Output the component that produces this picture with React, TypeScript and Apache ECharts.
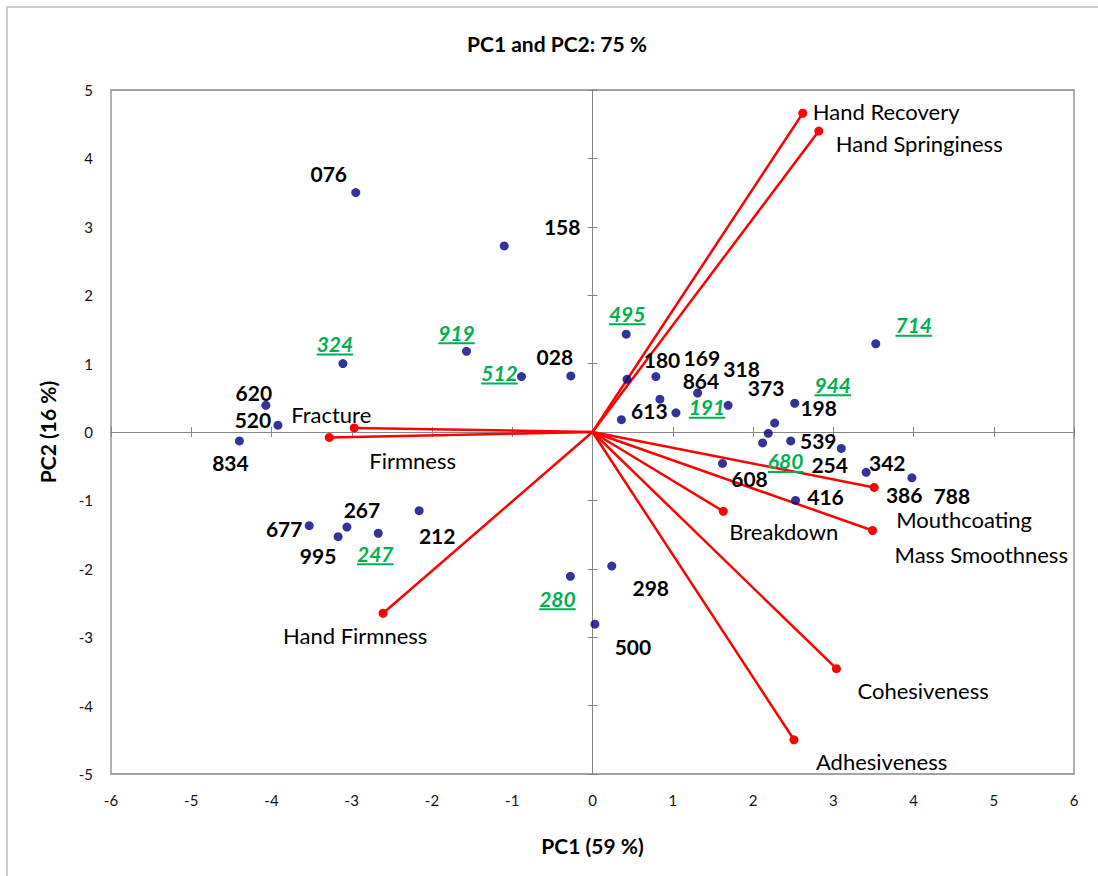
import React, { useEffect, useRef } from 'react';
import * as echarts from 'echarts';

// ---- Data ----
const sampleNames = ['076', '158', '324', '919', '512', '028', '620', '520', '834', '677', '267', '995', '247', '212', '280', '298', '500',
  '495', '714', '180', '169', '318', '864', '191', '613', '373', '944', '198', '539', '680', '254', '342', '608', '386', '788', '416'];
const samplePC1 = [-2.95, -1.10, -3.11, -1.57, -0.885, -0.27, -4.07, -3.92, -4.40, -3.53, -3.06, -3.17, -2.67, -2.16, -0.275, 0.24, 0.03,
  0.42, 3.53, 0.43, 0.79, 1.31, 0.84, 1.04, 0.36, 1.69, 2.52, 2.27, 2.19, 2.12, 2.47, 3.10, 1.62, 3.41, 3.98, 2.53];
const samplePC2 = [3.50, 2.72, 1.00, 1.18, 0.81, 0.82, 0.39, 0.10, -0.13, -1.37, -1.39, -1.53, -1.48, -1.15, -2.11, -1.96, -2.81,
  1.43, 1.29, 0.77, 0.81, 0.57, 0.48, 0.28, 0.18, 0.39, 0.42, 0.13, -0.02, -0.16, -0.13, -0.24, -0.46, -0.59, -0.67, -1.00];
const highlightedSamples = ['324', '919', '512', '247', '280', '495', '714', '944', '191', '680'];

const attributeNames = ['Hand Recovery', 'Hand Springiness', 'Fracture', 'Firmness', 'Hand Firmness', 'Mouthcoating',
  'Mass Smoothness', 'Breakdown', 'Cohesiveness', 'Adhesiveness'];
const attributePC1 = [2.62, 2.82, -2.97, -3.28, -2.61, 3.51, 3.49, 1.63, 3.04, 2.51];
const attributePC2 = [4.66, 4.40, 0.06, -0.08, -2.65, -0.81, -1.44, -1.16, -3.46, -4.50];

const titleText = 'PC1 and PC2: 75 %';
const xTitle = 'PC1 (59 %)';
const yTitle = 'PC2 (16 %)';

// ---- Layout (label offsets in pixels, relative to their marker) ----
const sampleLabelOffsets: Record<string, [number, number]> = {
  '076': [-27, -19], '158': [58, -19], '324': [-8, -20], '919': [-10, -19], '512': [-22, -4], '028': [-16, -19],
  '620': [-12, -13], '520': [-25, -6], '834': [-9, 22], '677': [-25, 3], '267': [15, -18], '995': [-20, 19],
  '247': [-3, 20], '212': [18, 25], '280': [-13, 22], '298': [39, 21], '500': [38, 22],
  '495': [1, -21], '714': [38, -19], '180': [35, -20], '169': [46, -19], '318': [44, -25], '864': [41, -19],
  '191': [31, -6], '613': [28, -9], '373': [38, -18], '944': [38, -19], '198': [44, -16], '539': [50, 7],
  '680': [23, 18], '254': [39, 24], '342': [46, 14], '608': [27, 15], '386': [38, 22], '788': [40, 18], '416': [30, -4],
};
const attributeLabelOffsets: [number, number][] = [
  [10, -2], [17, 12], [-63, -13], [40, 23], [-100, 22], [22, 32], [22, 24], [6, 20], [21, 22], [22, 22],
];

const FONT = 'Lato, "Open Sans", sans-serif';
const GREEN = '#00b050';
const AXIS_GRAY = '#868686';
const SAMPLE_FONT_SIZE = 21;
const ATTR_FONT_SIZE = 22;
const TITLE_FONT_SIZE = 21;

function measureText(text: string, font: string): number {
  const c = document.createElement('canvas');
  const ctx = c.getContext('2d');
  if (!ctx) return text.length * 11;
  ctx.font = font;
  return ctx.measureText(text).width;
}

export default function App() {
  const ref = useRef<HTMLDivElement>(null);

  useEffect(() => {
    document.body.style.margin = '0';
    if (!ref.current) return;
    const chart = echarts.init(ref.current, undefined, { renderer: 'svg' });

    const sampleData = samplePC1.map((x, i) => [x, samplePC2[i]]);
    const attributeData = attributePC1.map((x, i) => [x, attributePC2[i]]);

    const baseX = { type: 'value', min: -6, max: 6, interval: 1, splitLine: { show: false } };
    const baseY = { type: 'value', min: -5, max: 5, interval: 1, splitLine: { show: false } };

    const option: any = {
      animation: false,
      backgroundColor: '#ffffff',
      grid: {
        left: 111, right: 24, top: 90, bottom: 102,
        show: true, borderColor: AXIS_GRAY, borderWidth: 1.3, backgroundColor: 'transparent',
      },
      graphic: [
        {
          type: 'rect', silent: true,
          shape: { x: 7, y: 7, width: 1300, height: 1100 },
          style: { fill: 'none', stroke: '#bfbfbf', lineWidth: 1.5 },
        },
        {
          type: 'text', x: 557, y: 43,
          style: {
            text: titleText, align: 'center', verticalAlign: 'middle',
            fontSize: TITLE_FONT_SIZE, fontWeight: 'bold', fontFamily: FONT, fill: '#000',
          },
        },
      ],
      xAxis: [
        {
          ...baseX, position: 'bottom',
          axisLine: { show: false, onZero: false },
          axisTick: { show: false },
          axisLabel: { color: '#111', fontSize: 15, fontFamily: FONT, margin: 18 },
          name: xTitle, nameLocation: 'middle', nameGap: 61,
          nameTextStyle: { fontSize: TITLE_FONT_SIZE, fontWeight: 'bold', fontFamily: FONT, color: '#000' },
        },
        {
          ...baseX, position: 'bottom',
          axisLine: { show: true, onZero: true, onZeroAxisIndex: 0, lineStyle: { color: AXIS_GRAY, width: 1 } },
          axisTick: { show: true, inside: false, length: 5, lineStyle: { color: AXIS_GRAY, width: 1 } },
          axisLabel: { show: false },
        },
        {
          ...baseX, position: 'bottom',
          axisLine: { show: true, onZero: true, onZeroAxisIndex: 0, lineStyle: { color: AXIS_GRAY, width: 1 } },
          axisTick: { show: true, inside: true, length: 5, lineStyle: { color: AXIS_GRAY, width: 1 } },
          axisLabel: { show: false },
        },
      ],
      yAxis: [
        {
          ...baseY, position: 'left',
          axisLine: { show: false, onZero: false },
          axisTick: { show: false },
          axisLabel: { color: '#111', fontSize: 15, fontFamily: FONT, margin: 18 },
          name: yTitle, nameLocation: 'middle', nameGap: 53,
          nameTextStyle: { fontSize: TITLE_FONT_SIZE, fontWeight: 'bold', fontFamily: FONT, color: '#000' },
        },
        {
          ...baseY, position: 'left',
          axisLine: { show: true, onZero: true, onZeroAxisIndex: 0, lineStyle: { color: AXIS_GRAY, width: 1 } },
          axisTick: { show: true, inside: false, length: 5, lineStyle: { color: AXIS_GRAY, width: 1 } },
          axisLabel: { show: false },
        },
        {
          ...baseY, position: 'left',
          axisLine: { show: true, onZero: true, onZeroAxisIndex: 0, lineStyle: { color: AXIS_GRAY, width: 1 } },
          axisTick: { show: true, inside: true, length: 5, lineStyle: { color: AXIS_GRAY, width: 1 } },
          axisLabel: { show: false },
        },
      ],
      series: [
        {
          type: 'custom',
          name: 'Attributes',
          z: 2,
          silent: true,
          data: attributeData,
          renderItem: (params: any, api: any) => {
            const i = params.dataIndex;
            const o = api.coord([0, 0]);
            const e = api.coord([api.value(0), api.value(1)]);
            const off = attributeLabelOffsets[i];
            return {
              type: 'group',
              children: [
                { type: 'line', shape: { x1: o[0], y1: o[1], x2: e[0], y2: e[1] }, style: { stroke: '#ff0000', lineWidth: 2.5 } },
                { type: 'circle', shape: { cx: e[0], cy: e[1], r: 4.5 }, style: { fill: '#ff0000' } },
                {
                  type: 'text',
                  style: {
                    x: e[0] + off[0], y: e[1] + off[1], text: attributeNames[i],
                    fill: '#000', fontSize: ATTR_FONT_SIZE, fontFamily: FONT, align: 'left', verticalAlign: 'middle',
                  },
                },
              ],
            };
          },
        },
        {
          type: 'scatter',
          name: 'Samples',
          z: 3,
          symbol: 'circle',
          symbolSize: 9,
          itemStyle: { color: '#000080' },
          data: sampleData,
        },
        {
          type: 'custom',
          name: 'Sample labels',
          z: 4,
          silent: true,
          data: sampleData,
          renderItem: (params: any, api: any) => {
            const i = params.dataIndex;
            const name = sampleNames[i];
            const p = api.coord([api.value(0), api.value(1)]);
            const off = sampleLabelOffsets[name] || [0, 0];
            const cx = p[0] + off[0];
            const cy = p[1] + off[1];
            const green = highlightedSamples.indexOf(name) >= 0;
            const children: any[] = [
              {
                type: 'text',
                style: {
                  x: cx, y: cy, text: name,
                  fill: green ? GREEN : '#000',
                  fontSize: SAMPLE_FONT_SIZE, fontWeight: 'bold', fontStyle: green ? 'italic' : 'normal',
                  fontFamily: FONT, align: 'center', verticalAlign: 'middle',
                },
              },
            ];
            if (green) {
              const w = measureText(name, `italic bold ${SAMPLE_FONT_SIZE}px ${FONT}`);
              children.push({
                type: 'line',
                shape: { x1: cx - w / 2, y1: cy + 11, x2: cx + w / 2, y2: cy + 11 },
                style: { stroke: GREEN, lineWidth: 2 },
              });
            }
            return { type: 'group', children };
          },
        },
      ],
    };

    chart.setOption(option);
    return () => {
      chart.dispose();
    };
  }, []);

  return <div ref={ref} style={{ width: 1098, height: 876 }} />;
}
